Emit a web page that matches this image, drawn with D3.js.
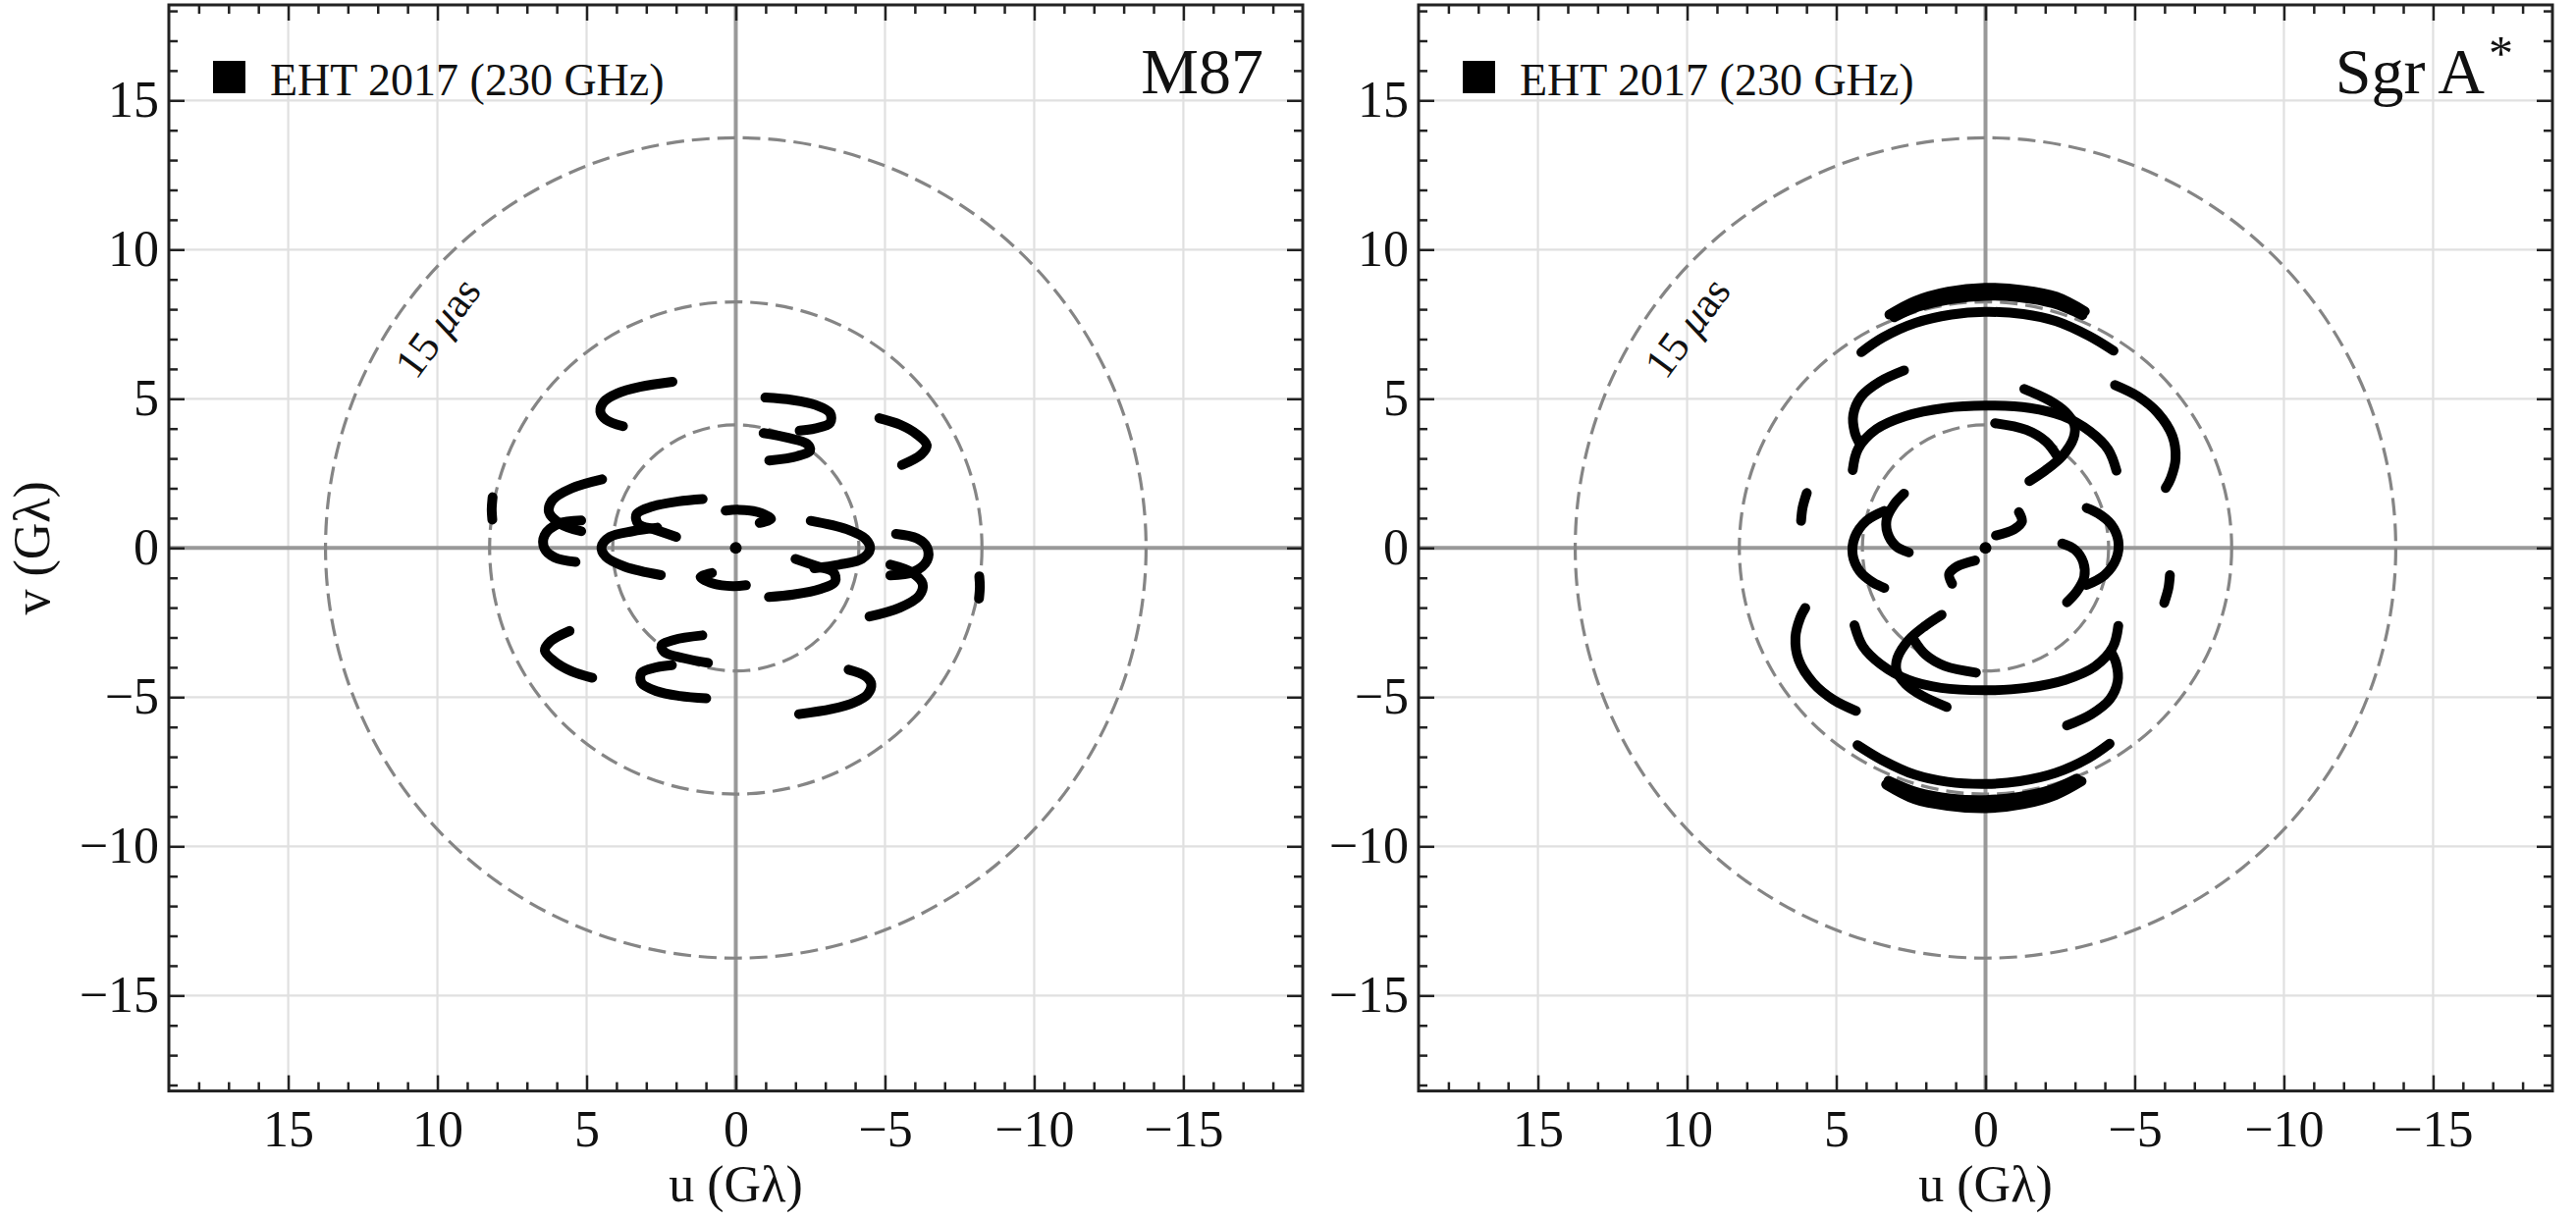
<!DOCTYPE html>
<html>
<head>
<meta charset="utf-8">
<script src="https://cdn.jsdelivr.net/npm/d3@7"></script>
<style>
  body { margin: 0; background: #fff; }
  svg text { font-family: "Liberation Serif", "DejaVu Serif", serif; fill: #111; }
</style>
</head>
<body>
<svg id="fig" width="2624" height="1240"></svg>
<script>
// uv tracks in G-lambda; each one is also drawn at (-u,-v),
// the conjugate baseline that every uv plot carries.
const m87Tracks = [
  [[2.12, 5.57], [3.21, 5.40], [3.97, 5.18], [4.41, 4.91], [4.54, 4.57], [4.35, 4.30], [3.78, 4.08]],
  [[-0.99, 5.04], [-1.88, 4.96], [-2.65, 4.80], [-3.16, 4.52], [-3.16, 4.19], [-2.65, 4.00], [-2.14, 3.93]],
  [[-0.93, 3.85], [-1.76, 3.69], [-2.39, 3.49], [-2.49, 3.27], [-2.07, 3.08], [-1.12, 2.93]],
  [[-4.81, 4.35], [-5.51, 4.13], [-6.08, 3.80], [-6.40, 3.44], [-6.21, 3.13], [-5.57, 2.78]],
  [[4.48, 2.30], [5.50, 2.00], [6.14, 1.61], [6.26, 1.20], [5.88, 0.81], [5.18, 0.56]],
  [[5.18, 0.92], [5.94, 0.81], [6.41, 0.42], [6.41, -0.02], [6.07, -0.32], [5.37, -0.47]],
  [[1.11, 1.64], [1.93, 1.56], [2.82, 1.38], [3.33, 1.12], [3.27, 0.81], [2.70, 0.61], [2.00, 0.37]],
  [[2.63, 0.68], [3.46, 0.56], [4.22, 0.37], [4.50, 0.03], [4.35, -0.30], [3.71, -0.63], [2.51, -0.91]],
  [[0.34, 1.25], [-0.10, 1.28], [-0.74, 1.20], [-1.18, 0.97], [-0.80, 0.84]],
  [[8.15, 1.70], [8.18, 1.30], [8.16, 0.95]]
];

const sgrTracks = [
  [[3.22, 7.82], [2.35, 8.28], [1.25, 8.59], [0.02, 8.72], [-1.27, 8.64], [-2.37, 8.42], [-3.33, 7.93]],
  [[3.06, 7.73], [2.24, 8.09], [1.14, 8.34], [0.02, 8.45], [-1.16, 8.40], [-2.26, 8.20], [-3.25, 7.80]],
  [[4.16, 6.56], [3.44, 7.05], [2.35, 7.54], [1.14, 7.82], [0.02, 7.91], [-1.27, 7.84], [-2.37, 7.60], [-3.46, 7.11], [-4.29, 6.61]],
  [[2.73, 5.95], [3.55, 5.57], [4.16, 5.08], [4.43, 4.47], [4.38, 3.87], [4.21, 3.49]],
  [[4.45, 2.61], [4.27, 3.32], [3.66, 3.98], [2.68, 4.42], [1.36, 4.69], [0.02, 4.77], [-1.49, 4.69], [-2.59, 4.42], [-3.51, 3.90], [-4.11, 3.30], [-4.39, 2.59]],
  [[-4.34, 5.46], [-5.11, 5.08], [-5.77, 4.53], [-6.26, 3.76], [-6.37, 2.99], [-6.21, 2.34], [-6.04, 2.01]],
  [[5.99, 1.84], [6.13, 1.35], [6.18, 0.91]],
  [[3.39, 1.24], [3.99, 0.91], [4.38, 0.36], [4.45, -0.24], [4.21, -0.79], [3.77, -1.16], [3.39, -1.34]],
  [[2.73, 1.82], [3.06, 1.46], [3.31, 0.97], [3.28, 0.49], [3.00, 0.06], [2.57, -0.15]],
  [[-0.35, 0.42], [-0.95, 0.62], [-1.22, 0.88], [-1.12, 1.20]],
  [[1.47, -2.24], [2.02, -2.61], [2.57, -3.08], [2.95, -3.68], [2.98, -4.12], [2.68, -4.56], [2.13, -4.95], [1.30, -5.33]],
  [[2.40, -3.08], [2.02, -3.57], [1.36, -3.96], [0.32, -4.18]]
];

const zeroSpacing = [[0, 0]];

// fringe spacing rings: 15, 25 and 50 micro-arcsec
const ringRadii = [13.75, 8.25, 4.125];
const majorTicks = [-15, -10, -5, 0, 5, 10, 15];
const uLimit = 19, vLimit = 18.2;

const panels = [
  { title: 'M87', star: false, tracks: m87Tracks, left: 172, vLabel: true },
  { title: 'Sgr A', star: true, tracks: sgrTracks, left: 1445, vLabel: false }
];

const pw = 1155, ph = 1106.6, plotTop = 5;
const svg = d3.select('#fig');

panels.forEach(function(p, i) {
  const x = d3.scaleLinear().domain([uLimit, -uLimit]).range([0, pw]);
  const y = d3.scaleLinear().domain([vLimit, -vLimit]).range([0, ph]);
  const g = svg.append('g').attr('transform', 'translate(' + p.left + ',' + plotTop + ')');

  g.append('clipPath').attr('id', 'clip' + i)
    .append('rect').attr('width', pw).attr('height', ph);
  const plot = g.append('g').attr('clip-path', 'url(#clip' + i + ')');

  // grid
  const gridTicks = majorTicks.filter(function(t) { return t !== 0; });
  plot.selectAll('.gx').data(gridTicks).enter()
    .append('line')
    .attr('x1', function(t) { return x(t); }).attr('x2', function(t) { return x(t); })
    .attr('y1', 0).attr('y2', ph)
    .attr('stroke', '#e0e0e0').attr('stroke-width', 2.2);
  plot.selectAll('.gy').data(gridTicks).enter()
    .append('line')
    .attr('y1', function(t) { return y(t); }).attr('y2', function(t) { return y(t); })
    .attr('x1', 0).attr('x2', pw)
    .attr('stroke', '#e0e0e0').attr('stroke-width', 2.2);

  // zero axes
  plot.append('line').attr('x1', x(0)).attr('x2', x(0)).attr('y1', 0).attr('y2', ph)
    .attr('stroke', '#999').attr('stroke-width', 4);
  plot.append('line').attr('y1', y(0)).attr('y2', y(0)).attr('x1', 0).attr('x2', pw)
    .attr('stroke', '#999').attr('stroke-width', 4);

  // rings
  plot.selectAll('.ring').data(ringRadii).enter()
    .append('circle')
    .attr('cx', x(0)).attr('cy', y(0))
    .attr('r', function(r) { return Math.abs(x(r) - x(0)); })
    .attr('fill', 'none').attr('stroke', '#858585')
    .attr('stroke-width', 3.2).attr('stroke-dasharray', '18 8');

  // ring label, set along the 15 uas ring
  const labAng = 36.5 * Math.PI / 180, labR = 12.45;
  const lu = labR * Math.cos(labAng), lv = labR * Math.sin(labAng);
  const lab = plot.append('text')
    .attr('transform', 'translate(' + x(lu) + ',' + y(lv) + ') rotate(-53.5)')
    .attr('text-anchor', 'middle').attr('dy', '0.35em')
    .style('font-size', '44px').attr('fill', '#333');
  lab.append('tspan').text('15 ');
  lab.append('tspan').style('font-style', 'italic').text('μ');
  lab.append('tspan').text('as');

  // tracks and their conjugates
  const line = d3.line()
    .x(function(d) { return x(d[0]); })
    .y(function(d) { return y(d[1]); })
    .curve(d3.curveCatmullRom);
  const both = [];
  p.tracks.forEach(function(t) {
    both.push(t);
    both.push(t.map(function(d) { return [-d[0], -d[1]]; }));
  });
  plot.selectAll('.track').data(both).enter()
    .append('path')
    .attr('d', line)
    .attr('fill', 'none').attr('stroke', '#000')
    .attr('stroke-width', 10)
    .attr('stroke-linecap', 'round').attr('stroke-linejoin', 'round');
  plot.selectAll('.dot').data(zeroSpacing).enter()
    .append('circle')
    .attr('cx', function(d) { return x(d[0]); }).attr('cy', function(d) { return y(d[1]); })
    .attr('r', 6).attr('fill', '#000');

  // axes, ticks inward on all sides
  const minorTicks = d3.range(-18, 19).filter(function(t) { return t % 5 !== 0; });
  function styleAxis(sel) {
    sel.select('.domain').remove();
    sel.selectAll('.tick line').attr('stroke', '#222').attr('stroke-width', 2.5);
    sel.selectAll('.tick text').style('font-size', '52px').attr('fill', '#111');
  }
  g.append('g').attr('transform', 'translate(0,' + ph + ')')
    .call(d3.axisBottom(x).tickValues(majorTicks).tickSize(-16).tickPadding(19).tickSizeOuter(0))
    .call(styleAxis);
  g.append('g').attr('transform', 'translate(0,' + ph + ')')
    .call(d3.axisBottom(x).tickValues(minorTicks).tickSize(-9).tickFormat('').tickSizeOuter(0))
    .call(styleAxis);
  g.append('g')
    .call(d3.axisTop(x).tickValues(majorTicks).tickSize(-16).tickFormat('').tickSizeOuter(0))
    .call(styleAxis);
  g.append('g')
    .call(d3.axisTop(x).tickValues(minorTicks).tickSize(-9).tickFormat('').tickSizeOuter(0))
    .call(styleAxis);
  g.append('g')
    .call(d3.axisLeft(y).tickValues(majorTicks).tickSize(-16).tickPadding(10).tickSizeOuter(0))
    .call(styleAxis);
  g.append('g')
    .call(d3.axisLeft(y).tickValues(minorTicks).tickSize(-9).tickFormat('').tickSizeOuter(0))
    .call(styleAxis);
  g.append('g').attr('transform', 'translate(' + pw + ',0)')
    .call(d3.axisRight(y).tickValues(majorTicks).tickSize(-16).tickFormat('').tickSizeOuter(0))
    .call(styleAxis);
  g.append('g').attr('transform', 'translate(' + pw + ',0)')
    .call(d3.axisRight(y).tickValues(minorTicks).tickSize(-9).tickFormat('').tickSizeOuter(0))
    .call(styleAxis);

  g.append('rect').attr('width', pw).attr('height', ph)
    .attr('fill', 'none').attr('stroke', '#222').attr('stroke-width', 3);

  // legend
  g.append('rect').attr('x', 45).attr('y', 57).attr('width', 33).attr('height', 33).attr('fill', '#000');
  g.append('text').attr('x', 103).attr('y', 92).style('font-size', '46px').text('EHT 2017 (230 GHz)');

  // source name
  const t = g.append('text').attr('x', pw - 40).attr('y', 90)
    .attr('text-anchor', 'end').style('font-size', '66px');
  t.append('tspan').text(p.title);
  if (p.star) t.append('tspan').attr('dx', 4).attr('dy', -24).style('font-size', '50px').text('*');

  // axis labels
  g.append('text').attr('x', pw / 2).attr('y', ph + 112)
    .attr('text-anchor', 'middle').style('font-size', '52px').text('u (Gλ)');
  if (p.vLabel) {
    g.append('text')
      .attr('transform', 'translate(' + (-140) + ',' + y(0) + ') rotate(-90)')
      .attr('text-anchor', 'middle').attr('dy', '0.35em')
      .style('font-size', '52px').text('v (Gλ)');
  }
});
</script>
</body>
</html>
